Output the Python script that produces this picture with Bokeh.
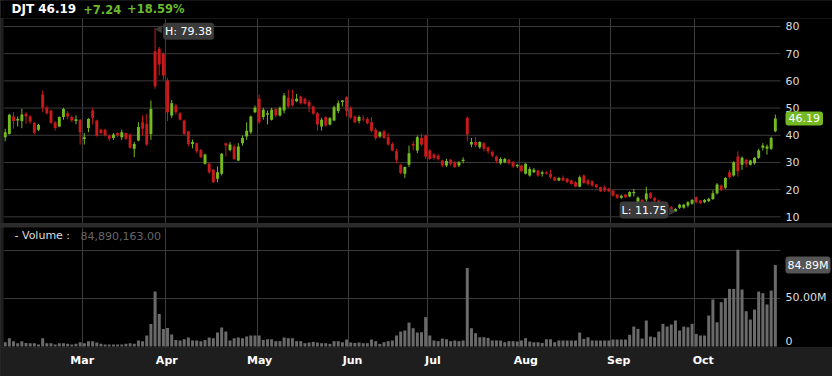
import numpy as np
import pandas as pd
from bokeh.plotting import figure
from bokeh.layouts import column
from bokeh.models import Range1d, FixedTicker, Label, ColumnDataSource, Grid, Spacer
from bokeh.core.properties import value
from bokeh.embed import file_html
from bokeh.resources import INLINE

# ---------------- data ----------------
TICKER = "DJT"
LAST = 46.19
CHANGE = 7.24
CHANGE_PCT = 18.59
PERIOD_HIGH = 79.38
PERIOD_LOW = 11.75
LAST_VOLUME = 84890163

HOLIDAYS = ["2024-02-19", "2024-03-29", "2024-05-27", "2024-06-19", "2024-07-04", "2024-09-02"]
_bd = pd.bdate_range("2024-02-02", "2024-10-28")
TRADING_DAYS = _bd[~_bd.isin(pd.to_datetime(HOLIDAYS))]

OPEN = [39.3, 40.5, 46.9, 45.4, 45.2, 47.9, 46.9, 44.6, 42.0, 55.0,
        50.1, 49.1, 44.7, 43.2, 46.7, 48.1, 46.7, 45.2, 45.7, 38.6,
        42.7, 49.1, 45.4, 42.0, 42.0, 39.9, 39.0, 40.8, 39.3, 40.8,
        40.3, 35.0, 38.1, 44.8, 44.2, 40.5, 70.9, 71.8, 70.0, 60.1,
        47.3, 50.9, 48.1, 45.4, 41.5, 36.8, 37.1, 34.6, 29.5, 29.5,
        27.3, 24.0, 25.8, 37.1, 34.6, 35.9, 30.7, 37.1, 39.5, 41.1,
        48.5, 53.4, 46.7, 47.5, 45.7, 49.7, 47.3, 49.1, 53.8, 53.4,
        52.5, 54.3, 53.4, 52.2, 50.6, 48.1, 43.2, 46.7, 44.0, 45.4,
        48.9, 52.2, 54.0, 50.1, 46.9, 45.2, 46.1, 46.0, 44.8, 42.0,
        39.5, 41.5, 39.3, 36.8, 34.1, 29.2, 25.8, 29.2, 36.8, 34.4,
        39.0, 39.9, 34.4, 32.9, 32.5, 30.7, 28.9, 31.0, 30.1, 28.9,
        30.5, 46.4, 36.6, 37.5, 35.6, 37.1, 35.6, 33.8, 32.2, 29.7,
        30.1, 31.0, 30.1, 28.6, 28.9, 25.8, 25.2, 26.4, 27.0, 25.8,
        26.4, 25.8, 24.6, 23.4, 24.3, 24.0, 23.4, 22.7, 21.1, 25.2,
        23.4, 23.1, 21.9, 20.9, 20.9, 20.3, 19.7, 18.2, 17.0, 18.2,
        17.5, 18.7, 15.4, 16.2, 16.4, 18.7, 17.0, 16.0, 15.4, 14.4,
        13.5, 12.0, 13.3, 13.3, 14.2, 14.8, 17.2, 16.0, 15.4, 15.8,
        16.6, 18.7, 21.5, 20.7, 26.4, 25.2, 32.2, 29.2, 31.0, 29.2,
        29.7, 31.7, 35.4, 35.0, 35.0, 41.5]
HIGH = [42.4, 47.9, 48.5, 46.9, 49.7, 48.5, 47.5, 44.8, 44.2, 56.5,
        50.9, 49.4, 45.2, 46.9, 50.1, 48.9, 47.3, 47.3, 45.9, 40.8,
        46.3, 50.1, 45.7, 42.4, 42.4, 40.3, 40.8, 41.1, 42.0, 41.0,
        40.5, 37.5, 44.8, 47.3, 47.9, 52.8, 79.38, 72.5, 70.5, 61.1,
        53.0, 51.6, 48.5, 45.8, 41.7, 38.4, 37.3, 35.0, 33.2, 30.1,
        27.6, 28.5, 33.5, 37.3, 37.5, 36.6, 37.1, 39.9, 44.8, 47.3,
        50.9, 55.0, 50.1, 49.1, 50.1, 50.1, 50.6, 55.5, 56.7, 56.7,
        55.2, 54.6, 53.8, 53.0, 50.9, 48.5, 46.4, 46.9, 46.7, 50.9,
        52.8, 53.0, 54.3, 50.6, 47.3, 47.3, 47.3, 46.7, 46.7, 42.7,
        41.5, 42.0, 40.8, 37.5, 35.0, 29.5, 28.5, 36.2, 37.8, 39.9,
        40.5, 40.1, 35.0, 33.4, 33.2, 31.0, 31.3, 31.3, 30.5, 30.5,
        31.9, 46.9, 39.0, 39.3, 37.8, 37.5, 35.9, 34.4, 32.5, 31.9,
        31.7, 31.3, 30.5, 29.5, 29.2, 29.7, 28.3, 28.0, 27.3, 27.0,
        26.8, 27.3, 24.8, 24.6, 25.2, 24.3, 23.6, 23.1, 25.2, 25.6,
        24.0, 23.4, 22.1, 21.1, 21.5, 20.7, 19.9, 18.4, 18.2, 18.4,
        19.4, 20.3, 17.5, 16.6, 21.1, 19.1, 17.2, 16.4, 15.8, 14.8,
        13.9, 13.2, 14.8, 14.8, 15.8, 16.6, 17.5, 16.2, 16.6, 17.0,
        19.7, 22.4, 21.9, 24.6, 27.3, 30.5, 34.1, 32.2, 31.3, 31.0,
        31.9, 35.0, 37.1, 36.6, 39.5, 47.6]
LOW = [37.8, 40.3, 42.4, 43.2, 42.6, 44.2, 44.2, 40.3, 41.5, 48.5,
       47.6, 44.2, 41.7, 43.0, 45.7, 45.9, 44.8, 44.0, 36.6, 36.6,
       41.1, 44.0, 39.5, 40.3, 39.5, 37.8, 38.3, 39.3, 38.3, 38.3,
       35.1, 31.9, 37.8, 39.9, 36.1, 38.3, 57.1, 62.0, 60.4, 45.2,
       46.4, 47.6, 45.4, 40.1, 35.9, 35.2, 33.4, 31.7, 29.2, 25.8,
       22.4, 22.7, 25.2, 32.2, 34.1, 31.0, 30.5, 36.2, 38.3, 40.5,
       48.1, 44.2, 45.7, 44.0, 45.4, 46.7, 46.9, 48.1, 50.1, 50.6,
       52.2, 51.3, 51.3, 48.5, 47.5, 41.7, 41.7, 43.2, 43.6, 45.2,
       48.1, 50.6, 46.9, 46.0, 44.4, 44.4, 45.1, 44.0, 41.1, 38.3,
       39.0, 38.7, 36.2, 34.1, 29.7, 25.6, 24.3, 28.3, 34.4, 33.4,
       35.9, 31.3, 31.0, 31.0, 30.7, 28.3, 28.3, 28.9, 28.0, 28.3,
       29.7, 37.8, 35.6, 35.6, 35.0, 34.1, 33.2, 31.9, 29.7, 29.2,
       29.7, 29.2, 28.0, 28.0, 26.4, 25.6, 24.8, 26.1, 24.8, 24.8,
       25.6, 24.0, 23.1, 23.1, 23.1, 22.4, 21.8, 20.9, 20.9, 22.1,
       21.5, 21.1, 20.5, 19.1, 19.1, 19.1, 17.5, 16.6, 16.6, 16.9,
       17.2, 17.5, 15.0, 14.8, 15.4, 16.6, 15.4, 14.6, 14.0, 13.2,
       12.0, 11.75, 12.9, 13.0, 13.5, 14.5, 15.0, 14.8, 15.0, 15.4,
       16.2, 18.2, 19.4, 20.3, 24.0, 24.8, 24.8, 27.3, 28.3, 28.9,
       29.2, 31.3, 34.4, 32.9, 34.6, 41.1]
CLOSE = [41.1, 47.5, 45.2, 46.0, 47.6, 46.9, 45.1, 40.9, 43.8, 50.1,
         48.1, 44.6, 42.7, 46.7, 49.7, 46.9, 45.4, 45.9, 41.1, 39.3,
         46.0, 46.4, 39.8, 40.8, 39.9, 38.7, 40.3, 39.9, 41.1, 38.7,
         35.4, 36.8, 43.0, 42.4, 36.6, 49.7, 58.0, 66.0, 62.0, 48.5,
         51.8, 48.5, 45.7, 40.5, 36.8, 37.5, 34.1, 31.9, 32.9, 26.4,
         22.7, 26.4, 33.2, 36.2, 36.6, 31.3, 35.9, 39.0, 41.7, 46.9,
         50.1, 44.8, 49.4, 48.1, 49.4, 47.3, 50.1, 54.6, 50.6, 50.9,
         53.4, 51.8, 51.6, 50.6, 47.9, 44.0, 45.7, 43.6, 46.3, 50.3,
         51.8, 52.8, 48.9, 46.4, 44.8, 46.7, 45.8, 44.4, 41.7, 39.0,
         41.1, 39.0, 36.6, 34.4, 31.0, 26.1, 28.3, 33.4, 36.2, 39.3,
         36.6, 32.2, 31.3, 31.7, 31.3, 28.9, 30.5, 29.5, 28.3, 30.1,
         31.0, 40.3, 37.5, 36.3, 37.5, 35.0, 34.1, 32.5, 30.5, 31.3,
         31.3, 29.7, 28.5, 29.1, 26.8, 29.5, 27.6, 27.3, 25.2, 26.4,
         25.8, 24.6, 23.4, 24.3, 23.4, 22.7, 22.1, 21.1, 24.6, 22.4,
         22.1, 21.5, 20.9, 19.4, 19.7, 19.4, 17.8, 17.0, 17.8, 17.2,
         19.1, 19.1, 17.0, 15.4, 18.6, 17.0, 16.0, 15.0, 14.5, 13.5,
         12.3, 12.9, 14.4, 14.4, 15.4, 16.2, 15.4, 15.0, 16.2, 16.6,
         18.7, 21.9, 19.9, 24.3, 24.6, 30.1, 26.8, 31.7, 29.5, 30.7,
         31.7, 34.4, 36.2, 35.9, 38.95, 46.19]
VOLUME_M = [4.5, 8.7, 5.6, 3.5, 5.6, 3.8, 3.5, 3.5, 2.1, 8.7,
            3.5, 3.5, 2.1, 3.5, 3.5, 2.8, 2.1, 2.8, 4.5, 3.5,
            5.6, 5.6, 4.2, 2.8, 2.1, 2.1, 2.1, 2.1, 2.1, 2.8,
            3.5, 2.8, 6.3, 5.6, 11.5, 23.6, 57.3, 34.0, 18.4, 19.4,
            12.5, 6.9, 6.3, 7.6, 9.4, 6.3, 6.3, 5.6, 6.9, 9.4,
            8.7, 14.6, 19.8, 15.6, 6.3, 8.7, 9.4, 8.7, 10.4, 11.5,
            11.5, 11.5, 6.9, 7.6, 7.6, 5.6, 5.6, 9.4, 8.7, 8.7,
            5.6, 5.6, 3.5, 4.2, 4.9, 4.2, 3.5, 3.5, 2.8, 5.6,
            5.6, 4.5, 7.3, 4.2, 3.8, 4.2, 3.5, 3.5, 7.3, 5.6,
            2.8, 4.5, 5.6, 6.3, 11.5, 15.6, 16.7, 25.0, 19.1, 14.6,
            14.9, 30.6, 11.5, 6.3, 5.6, 8.3, 7.6, 5.6, 6.3, 5.6,
            6.3, 81.9, 19.1, 13.9, 9.7, 9.7, 9.0, 6.3, 6.3, 6.3,
            4.5, 5.6, 5.6, 5.2, 6.3, 8.7, 5.2, 4.5, 4.5, 3.8,
            7.6, 7.6, 4.5, 6.3, 6.3, 6.3, 6.3, 6.3, 14.6, 8.0,
            9.7, 6.3, 6.3, 6.3, 6.3, 6.3, 7.3, 7.3, 7.3, 7.3,
            12.2, 20.8, 18.4, 8.3, 27.1, 10.4, 9.7, 15.6, 23.6, 20.8,
            22.9, 27.1, 16.7, 20.8, 20.1, 23.6, 13.2, 11.5, 11.5, 32.3,
            49.0, 25.3, 46.2, 50.3, 60.1, 60.0, 100.7, 59.4, 36.8, 28.1,
            38.5, 57.3, 55.6, 43.8, 58.3, 84.89]

MONTH_LABELS = ["Mar", "Apr", "May", "Jun", "Jul", "Aug", "Sep", "Oct"]
MONTH_NUMBERS = [3, 4, 5, 6, 7, 8, 9, 10]
PRICE_TICKS = [10, 20, 30, 40, 50, 60, 70, 80]
VOLUME_TICKS = [0, 50]
VOLUME_TICK_LABELS = ["0", "50.00M"]
VOLUME_GRID = [50, 100]

# ---------------- layout / style ----------------
W = 832
H_HEAD, H_PRICE, H_SEP, H_VOL, H_BAND = 18, 205, 4, 120, 29
LEFT = 3
PLOT_RIGHT_PX = 780            # right edge of the candle area
X_START, X_END = -0.41, 186.24  # index range of the candle area
PX_PER_UNIT = (PLOT_RIGHT_PX - LEFT) / (X_END - X_START)
X_FULL_END = X_START + (W - LEFT) / PX_PER_UNIT   # frame reaches the page edge
P_MIN, P_MAX = 7.55, 82.94
V_MIN, V_MAX = -1.0, 124.0
FONT = "DejaVu Sans"
UP, DOWN = "#74bb1f", "#c81a1a"
GRID = "#3c3c3c"
BG = "#000000"
EDGE = "#1e1e1e"
AXIS_TXT = "#dddddd"
TAG = "#3a3a3a"

n = min(len(CLOSE), len(TRADING_DAYS))
idx = np.arange(n)
o = np.array(OPEN[:n]); h = np.array(HIGH[:n]); l = np.array(LOW[:n]); c = np.array(CLOSE[:n])
src = ColumnDataSource(dict(
    x=idx, high=h, low=l,
    top=np.maximum(o, c), bottom=np.minimum(o, c),
    color=[UP if cc >= oo else DOWN for oo, cc in zip(o, c)],
    vol=VOLUME_M[:n],
))

months = np.array(TRADING_DAYS[:n].month)
month_starts = [int(np.argmax(months == m)) for m in MONTH_NUMBERS]
grid_pos = [s - 0.5 for s in month_starts]

xr = Range1d(X_START, X_FULL_END)


def base_fig(height, y_range, bg, edge):
    f = figure(width=W, height=height, x_range=xr, y_range=y_range,
               output_backend="svg", toolbar_location=None,
               x_axis_location=None, y_axis_location=None,
               min_border_left=LEFT, min_border_right=0,
               min_border_top=0, min_border_bottom=0)
    f.background_fill_color = bg
    f.border_fill_color = edge
    f.outline_line_color = None
    f.grid.visible = False
    return f


def vgrid(f):
    f.add_layout(Grid(dimension=0, ticker=FixedTicker(ticks=grid_pos),
                      grid_line_color=GRID, grid_line_width=1))


def hgrid(f, ticks):
    f.segment(x0=X_START, x1=X_END, y0=ticks, y1=ticks, line_color=GRID, line_width=1)


def right_labels(f, ticks, labels, y_offsets):
    s = ColumnDataSource(dict(x=[X_END] * len(ticks), y=ticks, text=labels, dy=y_offsets))
    f.text(x="x", y="y", text="text", source=s, x_offset=5, y_offset="dy",
           text_color=AXIS_TXT, text_font=value(FONT), text_font_size="11px",
           text_align="left", text_baseline="middle")


# header
head = figure(width=W, height=H_HEAD, x_range=Range1d(0, W), y_range=Range1d(0, H_HEAD),
              output_backend="svg", toolbar_location=None,
              x_axis_location=None, y_axis_location=None,
              min_border_left=0, min_border_right=0, min_border_top=0, min_border_bottom=0)
head.background_fill_color = BG
head.border_fill_color = BG
head.outline_line_color = None
head.grid.visible = False
head_src = ColumnDataSource(dict(
    x=[8, 80, 124], y=[9.5, 9.5, 9.5],
    text=[f"{TICKER} {LAST:.2f}", f"+{CHANGE:.2f}", f"+{CHANGE_PCT:.2f}%"],
    color=["#ffffff", "#6cbb2a", "#6cbb2a"],
    size=["12px", "11.5px", "11.5px"],
))
head.text(x="x", y="y", text="text", text_color="color", source=head_src,
          text_font=value(FONT), text_font_style="bold", text_font_size="size",
          text_baseline="middle", text_align="left")

# price panel
price = base_fig(H_PRICE, Range1d(P_MIN, P_MAX), BG, EDGE)
vgrid(price)
hgrid(price, PRICE_TICKS)
price.segment(x0="x", y0="low", x1="x", y1="high", line_color="color", line_width=1, source=src)
price.vbar(x="x", width=0.7, top="top", bottom="bottom", fill_color="color",
           line_color=None, source=src)
right_labels(price, PRICE_TICKS, [str(t) for t in PRICE_TICKS], [0] * len(PRICE_TICKS))

hi_i = int(np.argmax(h)); lo_i = int(np.argmin(l))
# pointer tips of the high / low tags
price.scatter(x=[hi_i + 4.5 / PX_PER_UNIT], y=[float(h[hi_i]) - 1.0 / 2.719], marker="triangle",
              angle=np.pi / 2, size=8, fill_color=TAG, line_color=None)
price.scatter(x=[lo_i - 4.0 / PX_PER_UNIT], y=[float(l[lo_i]) + 0.5 / 2.719], marker="triangle",
              angle=-np.pi / 2, size=8, fill_color=TAG, line_color=None)
price.add_layout(Label(x=hi_i, y=float(h[hi_i]), text=f"H: {PERIOD_HIGH:.2f}",
                       x_offset=8, y_offset=-3, text_align="left", text_baseline="middle",
                       text_font=FONT, text_font_size="11px", text_color="#ffffff",
                       background_fill_color=TAG, padding=2, border_radius=3))
price.add_layout(Label(x=lo_i, y=float(l[lo_i]), text=f"L: {PERIOD_LOW:.2f}",
                       x_offset=-7, y_offset=2, text_align="right", text_baseline="middle",
                       text_font=FONT, text_font_size="11px", text_color="#ffffff",
                       background_fill_color=TAG, padding=2, border_radius=3))
price.add_layout(Label(x=X_END, y=LAST, text=f"{LAST:.2f}", x_offset=5,
                       text_align="left", text_baseline="middle",
                       text_font=FONT, text_font_size="11px", text_color="#ffffff",
                       background_fill_color="#74b923", padding=3, border_radius=3))

# separator
sep = Spacer(width=W, height=H_SEP, styles={"background-color": "#2b2b2b"})

# volume panel
vol = base_fig(H_VOL, Range1d(V_MIN, V_MAX), BG, EDGE)
vgrid(vol)
hgrid(vol, VOLUME_GRID)
vol.vbar(x="x", width=0.72, top="vol", bottom=0, fill_color="#6a6a6a", line_color=None, source=src)
right_labels(vol, VOLUME_TICKS, VOLUME_TICK_LABELS, [-6, -1])
vol.add_layout(Label(x=X_END, y=VOLUME_M[n - 1], text=f"{LAST_VOLUME / 1e6:.2f}M", x_offset=5,
                     text_align="left", text_baseline="middle",
                     text_font=FONT, text_font_size="11px", text_color="#ffffff",
                     background_fill_color="#555555", padding=2, border_radius=3))


def px_to_x(px):
    return X_START + (px - LEFT) / PX_PER_UNIT


vol_title_y = V_MAX - (235 - 227) * (V_MAX - V_MIN) / H_VOL
vol.add_layout(Label(x=px_to_x(14), y=vol_title_y, text="- Volume :", text_align="left",
                     text_baseline="middle", text_font=FONT, text_font_size="11px",
                     text_color="#dddddd"))
vol.add_layout(Label(x=px_to_x(80), y=vol_title_y, text=f"{LAST_VOLUME:,.2f}", text_align="left",
                     text_baseline="middle", text_font=FONT, text_font_size="11px",
                     text_color="#666666"))

# month axis band
band = base_fig(H_BAND, Range1d(-1, 1), "#1e1e1e", "#1e1e1e")
band_src = ColumnDataSource(dict(
    x=[g + 0.31 * k for k, g in enumerate(grid_pos)],
    y=[0.1] * len(grid_pos),
    text=MONTH_LABELS,
))
band.text(x="x", y="y", text="text", source=band_src, text_color="#ffffff",
          text_font=value(FONT), text_font_style="bold", text_font_size="11px",
          text_align="center", text_baseline="middle")

layout = column(head, price, sep, vol, band, spacing=0,
                styles={"background-color": "#2b2b2b"})
open("out.html", "w").write(file_html(layout, INLINE))
